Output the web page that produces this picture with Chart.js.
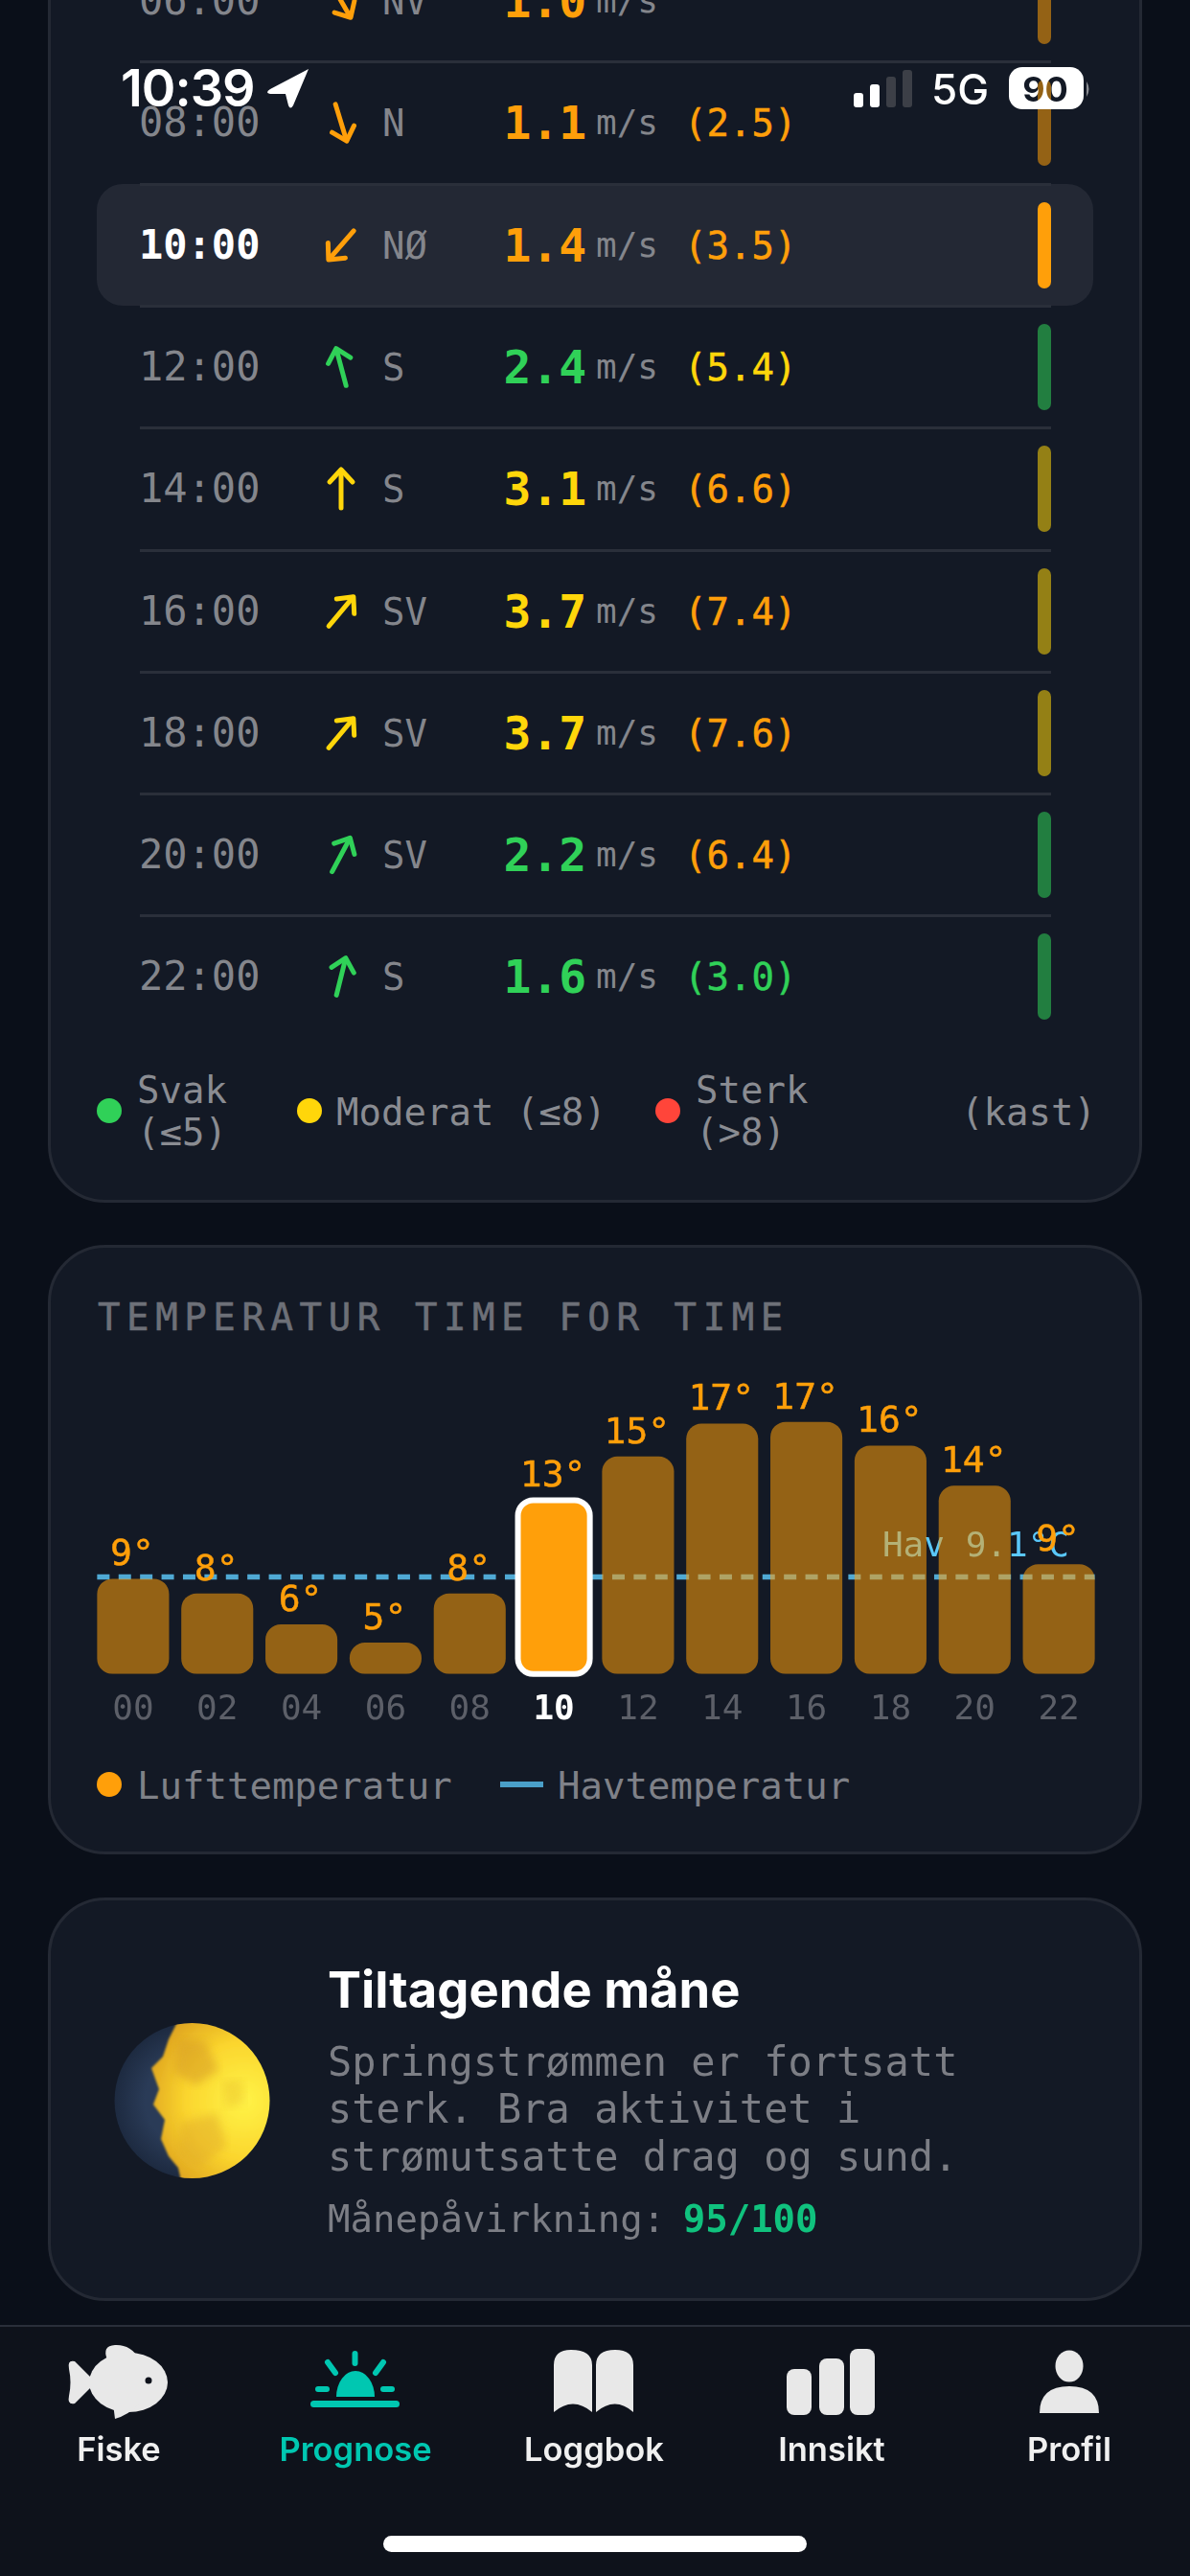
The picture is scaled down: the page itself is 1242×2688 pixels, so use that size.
<!DOCTYPE html>
<html lang="no">
<head>
<meta charset="utf-8">
<title>Prognose</title>
<script src="https://cdn.jsdelivr.net/npm/chart.js@4"></script>
<style>
  * { box-sizing: border-box; }
  html, body { margin: 0; padding: 0; background: #0a0f19; }
  #page { position: relative; width: 1242px; height: 2688px; overflow: hidden; background: #0a0f19; font-family: "DejaVu Sans Mono", monospace; }
  .card { position: absolute; left: 50px; width: 1142px; background: #131925; border: 3px solid #242934; border-radius: 60px; }
  .t { position: absolute; white-space: pre; line-height: 1; transform: translateY(-50%); }
  .sep { position: absolute; left: 146px; width: 951px; height: 3px; background: #2a2f3a; }
  .lvl { position: absolute; left: 1083px; width: 14px; height: 90px; border-radius: 7px; }
  .dot { position: absolute; width: 26px; height: 26px; border-radius: 50%; }
  #tempChart { position: absolute; left: 95px; top: 1437px; }
  #nav { position: absolute; left: 0; top: 2426px; width: 1242px; height: 262px; background: #0e121b; border-top: 2px solid #2a2f3a; }
  svg.full { position: absolute; left: 0; top: 0; }
  .navlabel { font-family: Inter, sans-serif; font-weight: 600; font-size: 34.5px; color: #f0f0f0; transform: translate(-50%, -50%); }
</style>
</head>
<body>
<div id="page">
  <div class="card" style="top:-200px;height:1455px"></div>
  <div class="card" style="top:1299px;height:636px"></div>
  <div class="card" style="top:1980px;height:421px"></div>
  <div id="rows"></div>
  <div class="t" style="left:102px;top:1374px;font-size:39px;letter-spacing:6.6px;color:#6d7078;-webkit-text-stroke:0.6px #6d7078">TEMPERATUR TIME FOR TIME</div>
  <canvas id="tempChart" width="1054" height="385"></canvas>
  <div class="dot" style="left:101px;top:1849px;background:#ff9f0a"></div>
  <div class="t" style="left:143px;top:1863px;font-size:39px;color:#7f8188">Lufttemperatur</div>
  <div style="position:absolute;left:522px;top:1859px;width:45px;height:6px;background:#4a9fc8"></div>
  <div class="t" style="left:582px;top:1863px;font-size:39px;color:#7f8188">Havtemperatur</div>

  <!-- wind legend -->
  <div class="dot" style="left:101px;top:1146px;background:#30d158"></div>
  <div class="t" style="left:143px;top:1137px;font-size:39px;color:#8a8c92">Svak</div>
  <div class="t" style="left:143px;top:1181px;font-size:39px;color:#8a8c92">(≤5)</div>
  <div class="dot" style="left:310px;top:1146px;background:#ffd60a"></div>
  <div class="t" style="left:351px;top:1160px;font-size:39px;color:#8a8c92">Moderat (≤8)</div>
  <div class="dot" style="left:684px;top:1146px;background:#ff453a"></div>
  <div class="t" style="left:726px;top:1137px;font-size:39px;color:#8a8c92">Sterk</div>
  <div class="t" style="left:726px;top:1181px;font-size:39px;color:#8a8c92">(&gt;8)</div>
  <div class="t" style="left:1003px;top:1160px;font-size:39px;color:#8a8c92">(kast)</div>

  <!-- moon card -->
  <svg class="full" width="1242" height="2688">
    <defs>
      <radialGradient id="moonLit" gradientUnits="userSpaceOnUse" cx="255" cy="2192" r="110">
        <stop offset="0" stop-color="#fff347"/>
        <stop offset="0.55" stop-color="#fbd62e"/>
        <stop offset="1" stop-color="#dc9f1e"/>
      </radialGradient>
      <radialGradient id="moonDark" gradientUnits="userSpaceOnUse" cx="200" cy="2192" r="81">
        <stop offset="0.6" stop-color="#2a3b57"/>
        <stop offset="1" stop-color="#1d2a40"/>
      </radialGradient>
      <clipPath id="moonClip"><circle cx="200.5" cy="2192" r="81"/></clipPath>
      <filter id="soft"><feGaussianBlur stdDeviation="5"/></filter>
      <filter id="edge"><feGaussianBlur stdDeviation="1"/></filter>
    </defs>
    <circle cx="200.5" cy="2192" r="81" fill="url(#moonDark)"/>
    <g clip-path="url(#moonClip)">
      <path filter="url(#edge)" fill="url(#moonLit)" d="M186 2108 L292 2100 L292 2280 L190 2280 L186 2262 L176 2250 L168 2232 L172 2212 L160 2196 L166 2180 L158 2158 L170 2146 L176 2128 Z"/>
      <path filter="url(#soft)" fill="#d9a028" opacity="0.6" d="M186 2128 L214 2130 L228 2160 L204 2176 L182 2162 Z"/>
      <path filter="url(#soft)" fill="#e0aa2a" opacity="0.5" d="M190 2214 L226 2206 L236 2240 L206 2262 L186 2246 Z"/>
      <path filter="url(#soft)" fill="#e8bc2c" opacity="0.4" d="M232 2172 L252 2170 L256 2194 L236 2200 Z"/>
    </g>
  </svg>
  <div class="t" style="left:342px;top:2076px;font-family:Inter,sans-serif;font-weight:700;font-size:52.5px;color:#fff">Tiltagende måne</div>
  <div class="t" style="left:342px;top:2152px;font-size:42px;color:#7c7e85">Springstrømmen er fortsatt</div>
  <div class="t" style="left:342px;top:2201px;font-size:42px;color:#7c7e85">sterk. Bra aktivitet i</div>
  <div class="t" style="left:342px;top:2251px;font-size:42px;color:#7c7e85">strømutsatte drag og sund.</div>
  <div class="t" style="left:342px;top:2315px;font-size:39px;color:#7c7e85">Månepåvirkning: <b style="color:#10c27e;margin-left:-5px">95/100</b></div>

  <!-- tab bar -->
  <div id="nav"></div>
  <svg class="full" width="1242" height="2688">
    <g fill="#e8e8e8">
      <ellipse cx="134" cy="2486" rx="41" ry="31"/>
      <path d="M100 2486 L78 2464 Q70 2462 72 2472 Q75 2486 72 2500 Q70 2510 78 2508 Z"/>
      <path d="M112 2462 Q106 2448 120 2447 Q136 2446 146 2462 Z"/>
      <path d="M118 2508 L120 2524 Q134 2520 146 2508 Z"/>
    </g>
    <circle cx="155" cy="2484" r="3.5" fill="#0e121b"/>
    <g fill="#00c7b1">
      <path d="M351 2501 a20 27 0 0 1 40 0 Z"/>
      <rect x="324" y="2505" width="93" height="7" rx="3.5"/>
      <rect x="367.5" y="2453" width="6" height="16" rx="3"/>
      <rect x="329" y="2490" width="15" height="6" rx="3"/>
      <rect x="397" y="2490" width="15" height="6" rx="3"/>
    </g>
    <g stroke="#00c7b1" stroke-width="6" stroke-linecap="round">
      <line x1="342" y1="2465" x2="350" y2="2476"/>
      <line x1="400" y1="2465" x2="392" y2="2476"/>
    </g>
    <g fill="#e8e8e8">
      <path d="M578 2517 L578 2468 Q578 2452 596 2452 Q618 2452 618 2468 L618 2517 Q598 2500 578 2517 Z"/>
      <path d="M622 2517 L622 2468 Q622 2452 642 2452 Q661 2452 661 2468 L661 2517 Q642 2500 622 2517 Z"/>
      <rect x="821" y="2472" width="26" height="48" rx="8"/>
      <rect x="855" y="2461" width="26" height="59" rx="8"/>
      <rect x="887" y="2451" width="26" height="69" rx="8"/>
      <ellipse cx="1116" cy="2469" rx="14.5" ry="16.5"/>
      <path d="M1085 2518 Q1085 2490 1116 2490 Q1147 2490 1147 2518 Z"/>
    </g>
  </svg>
  <div class="t navlabel" style="left:124px;top:2556px">Fiske</div>
  <div class="t navlabel" style="left:371px;top:2556px;color:#00c7b1">Prognose</div>
  <div class="t navlabel" style="left:620px;top:2556px">Loggbok</div>
  <div class="t navlabel" style="left:868px;top:2556px">Innsikt</div>
  <div class="t navlabel" style="left:1116px;top:2556px">Profil</div>
  <div style="position:absolute;left:400px;top:2646px;width:442px;height:17px;border-radius:9px;background:#fff"></div>

  <!-- status bar -->
  <svg class="full" width="1242" height="2688">
    <defs>
      <mask id="batteryMask">
        <rect x="1053" y="70" width="78" height="44" rx="14" fill="#fff"/>
        <text x="1091" y="106" text-anchor="middle" font-family="Inter, sans-serif" font-weight="700" font-size="36" fill="#000">90</text>
      </mask>
    </defs>
    <text x="126" y="111" font-family="Inter, sans-serif" font-weight="600" font-size="54" fill="#fff" letter-spacing="-1">10:39</text>
    <path d="M322 72 L282 93 Q276 97 282 98 L298 98 L301 110 Q303 115 306 110 Z" fill="#fff"/>
    <rect x="891" y="97" width="10" height="15" rx="3" fill="#fff"/>
    <rect x="908" y="88" width="10" height="24" rx="3" fill="#fff"/>
    <rect x="925" y="80" width="10" height="32" rx="3" fill="#3c3f47"/>
    <rect x="942" y="73" width="10" height="39" rx="3" fill="#3c3f47"/>
    <text x="972" y="109" font-family="Inter, sans-serif" font-weight="500" font-size="44" fill="#fff">5G</text>
    <rect x="1053" y="70" width="78" height="44" fill="#fff" mask="url(#batteryMask)"/>
    <path d="M1134 85 Q1139 93 1134 101 Z" fill="#8a8c92"/>
  </svg>
</div>

<script>
// Wind table
const windHours = ['06:00', '08:00', '10:00', '12:00', '14:00', '16:00', '18:00', '20:00', '22:00'];
const windDirs = ['NV', 'N', 'NØ', 'S', 'S', 'SV', 'SV', 'SV', 'S'];
const windAngles = [150, 163, 221, -15, 0, 40, 40, 28, 14];
const windSpeeds = ['1.0', '1.1', '1.4', '2.4', '3.1', '3.7', '3.7', '2.2', '1.6'];
const windGusts = ['', '2.5', '3.5', '5.4', '6.6', '7.4', '7.6', '6.4', '3.0'];
const speedLevels = ['o', 'o', 'o', 'g', 'y', 'y', 'y', 'g', 'g'];
const gustLevels = ['o', 'o', 'o', 'y', 'o', 'o', 'o', 'o', 'g'];
const levelColors = { g: '#30d158', y: '#ffd60a', o: '#ff9f0a' };
const activeHour = '10:00';

// Temperature chart
const tempHours = ['00', '02', '04', '06', '08', '10', '12', '14', '16', '18', '20', '22'];
const airTemps = [9.0, 8.2, 6.5, 5.5, 8.2, 13.3, 15.7, 17.5, 17.6, 16.3, 14.1, 9.8];
const seaTemp = 9.1;
const activeTempHour = '10';
const tempAxisMin = 3.78;
const tempAxisMax = 19;

const rows = document.getElementById('rows');
let html = '';
windHours.forEach((h, i) => {
  const y = 1 + i * 127.3;
  const active = h === activeHour;
  if (active) html += `<div style="position:absolute;left:101px;top:${y - 64}px;width:1040px;height:127px;border-radius:27px;background:#232834"></div>`;
  if (i > 0) html += `<div class="sep" style="top:${y - 65}px"></div>`;
  html += `<div class="t" style="left:145px;top:${y}px;font-size:42px;${active ? 'font-weight:700;color:#fff' : 'color:#84868c'}">${h}</div>`;
  const c = levelColors[speedLevels[i]];
  html += `<svg style="position:absolute;left:326px;top:${y - 30}px" width="60" height="60" viewBox="-30 -30 60 60"><g transform="rotate(${windAngles[i]})" fill="none" stroke="${c}" stroke-width="5" stroke-linecap="round" stroke-linejoin="round"><path d="M0 20 L0 -19"/><path d="M-12 -7 L0 -20 L12 -7"/></g></svg>`;
  html += `<div class="t" style="left:399px;top:${y}px;font-size:39px;color:#84868c">${windDirs[i]}</div>`;
  html += `<div class="t" style="left:525.5px;top:${y}px;font-size:48px;font-weight:700;color:${c}">${windSpeeds[i]}</div>`;
  html += `<div class="t" style="left:622px;top:${y}px;font-size:36px;color:#84868c">m/s</div>`;
  if (windGusts[i]) html += `<div class="t" style="left:714px;top:${y}px;font-size:39px;color:${levelColors[gustLevels[i]]};-webkit-text-stroke:0.5px ${levelColors[gustLevels[i]]}">(${windGusts[i]})</div>`;
  html += `<div class="lvl" style="top:${y - 45}px;background:${c};opacity:${active ? 1 : 0.55}"></div>`;
});
rows.innerHTML = html;

const activeIndex = tempHours.indexOf(activeTempHour);
const monoFont = '"DejaVu Sans Mono", monospace';

const seaLine = {
  id: 'seaLine',
  // goes under the bars, they tint it like in the app
  beforeDatasetsDraw(chart) {
    const { ctx, chartArea, scales } = chart;
    const bars = chart.getDatasetMeta(0).data;
    const first = bars[0];
    const last = bars[bars.length - 1];
    const y = scales.y.getPixelForValue(seaTemp);
    ctx.save();
    ctx.strokeStyle = '#4fa9d4';
    ctx.lineWidth = 5.5;
    ctx.setLineDash([13, 9.4]);
    ctx.beginPath();
    ctx.moveTo(first.x - first.width / 2, y);
    ctx.lineTo(last.x + last.width / 2, y);
    ctx.stroke();
    ctx.font = '36px ' + monoFont;
    ctx.fillStyle = '#5ac8fa';
    ctx.textAlign = 'right';
    ctx.textBaseline = 'middle';
    ctx.fillText('Hav ' + seaTemp + '°C', chartArea.right - 33, y - 31);
    ctx.restore();
  }
};

const barExtras = {
  id: 'barExtras',
  afterDatasetsDraw(chart) {
    const { ctx } = chart;
    const bars = chart.getDatasetMeta(0).data;
    ctx.save();
    const b = bars[activeIndex];
    ctx.strokeStyle = '#fff';
    ctx.lineWidth = 6;
    ctx.beginPath();
    ctx.roundRect(b.x - b.width / 2, b.y, b.width, b.base - b.y, 16);
    ctx.stroke();
    ctx.font = '38px ' + monoFont;
    ctx.fillStyle = '#ff9f0a';
    ctx.strokeStyle = '#ff9f0a';
    ctx.lineWidth = 0.5;
    ctx.textAlign = 'center';
    ctx.textBaseline = 'middle';
    bars.forEach((bar, i) => {
      const label = Math.floor(airTemps[i]) + '°';
      ctx.fillText(label, bar.x - 1, bar.y - 24);
      ctx.strokeText(label, bar.x - 1, bar.y - 24);
    });
    ctx.restore();
  }
};

new Chart(document.getElementById('tempChart').getContext('2d'), {
  type: 'bar',
  data: {
    labels: tempHours,
    datasets: [
      {
        label: 'Lufttemperatur',
        data: airTemps,
        base: tempAxisMin,
        backgroundColor: tempHours.map((h) => (h === activeTempHour ? '#ff9f0a' : 'rgba(255,159,10,0.55)')),
        borderWidth: 0,
        borderRadius: 16,
        borderSkipped: false,
        barPercentage: 0.855,
        categoryPercentage: 1
      }
    ]
  },
  plugins: [seaLine, barExtras],
  options: {
    responsive: false,
    animation: false,
    layout: { padding: { top: 20, left: 0, right: 0, bottom: 0 } },
    plugins: { legend: { display: false }, tooltip: { enabled: false } },
    scales: {
      x: {
        grid: { display: false, drawTicks: false },
        border: { display: false },
        ticks: {
          padding: 16,
          maxRotation: 0,
          color: (c) => (c.index === activeIndex ? '#ffffff' : '#5c5f68'),
          font: (c) => ({ family: monoFont, size: 36, weight: c.index === activeIndex ? 'bold' : 'normal' })
        }
      },
      y: { display: false, min: tempAxisMin, max: tempAxisMax }
    }
  }
});
</script>
</body>
</html>
